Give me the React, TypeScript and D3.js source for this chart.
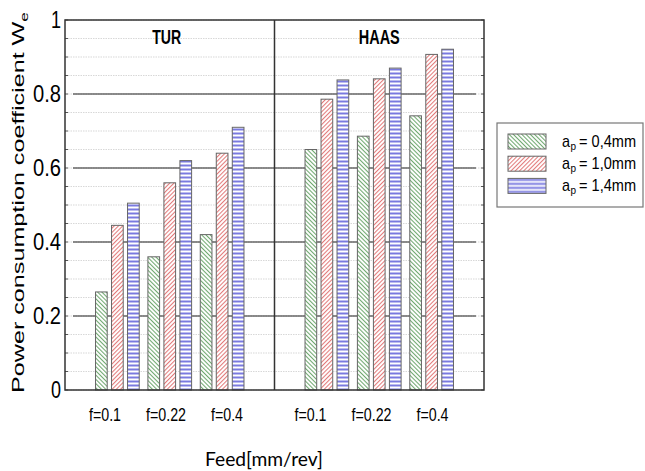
import React from 'react';
import * as d3 from 'd3';

const machines = ['TUR', 'HAAS'];
const feeds = ['f=0.1', 'f=0.22', 'f=0.4'];
const depths = ['0,4mm', '1,0mm', '1,4mm'];

// values per machine, per feed, per depth of cut
const turValues = [
  [0.265, 0.445, 0.505],
  [0.36, 0.56, 0.62],
  [0.42, 0.64, 0.71],
];
const haasValues = [
  [0.65, 0.786, 0.838],
  [0.686, 0.841, 0.87],
  [0.741, 0.907, 0.921],
];
const yTicks = [0, 0.2, 0.4, 0.6, 0.8, 1];
const minorTicks = d3.range(0, 1.0001, 0.05);

const patterns = ['hatchGreen', 'hatchRed', 'hatchBlue'];

const W = 645, H = 471;
const left = 65, right = 484, top = 20, bottom = 390;
const FONT = 'Arial, "Liberation Sans", sans-serif';

export default function App() {
  const y = d3.scaleLinear().domain([0, 1]).range([bottom, top]);
  // 8 slots across the frame: groups sit at 1,2,3 (TUR) and 5,6,7 (HAAS)
  const x = d3.scaleLinear().domain([0, 8]).range([left, right]);
  const inner = d3.scaleBand<number>().domain([0, 1, 2]).range([-21.85, 21.85]).paddingInner(0.27);
  const labelX = d3.scaleLinear().domain([0, 2]).range([105, 227]);
  const panelW = x(4) - x(0);

  const data = [turValues, haasValues];

  return (
    <svg width={W} height={H} style={{ position: 'absolute', left: 0, top: 0 }}>
      <defs>
        <pattern id="hatchGreen" patternUnits="userSpaceOnUse" width="3" height="3" patternTransform="rotate(-45)">
          <rect width="3" height="3" fill="#fff" />
          <line x1="0.5" y1="0" x2="0.5" y2="3" stroke="#6fa86f" strokeWidth="1.1" />
        </pattern>
        <pattern id="hatchRed" patternUnits="userSpaceOnUse" width="3" height="3" patternTransform="rotate(45)">
          <rect width="3" height="3" fill="#fff" />
          <line x1="0.5" y1="0" x2="0.5" y2="3" stroke="#e27a7a" strokeWidth="1.1" />
        </pattern>
        <pattern id="hatchBlue" patternUnits="userSpaceOnUse" width="4" height="4">
          <rect width="4" height="4" fill="#fff" />
          <line x1="0" y1="1.5" x2="4" y2="1.5" stroke="#7a7ae0" strokeWidth="2" />
        </pattern>
      </defs>

      {/* minor grid + small ticks */}
      {minorTicks.map((t, i) => (
        <g key={'m' + i}>
          <line x1={left + 3} x2={right - 3} y1={y(t)} y2={y(t)} stroke="#d8d8d8" strokeWidth={1.2} strokeDasharray="1.5,1" />
          <line x1={left} x2={left + 3} y1={y(t)} y2={y(t)} stroke="#555" />
          <line x1={right - 3} x2={right} y1={y(t)} y2={y(t)} stroke="#555" />
        </g>
      ))}
      {/* major grid */}
      {yTicks.slice(1, -1).map(t => (
        <line key={'M' + t} x1={left + 8} x2={right - 8} y1={y(t)} y2={y(t)} stroke="#222" strokeWidth={1.2} />
      ))}

      {/* bars */}
      {data.map((panel, pi) =>
        panel.map((vals, fi) =>
          vals.map((v, di) => {
            const cx = x(pi * 4 + fi + 1);
            return (
              <rect key={`${pi}-${fi}-${di}`}
                x={cx + (inner(di) as number)} y={y(v)}
                width={inner.bandwidth()} height={y(0) - y(v)}
                fill={`url(#${patterns[di]})`} stroke="#666" strokeWidth={1} />
            );
          })
        )
      )}

      {/* frame */}
      <rect x={left} y={top} width={right - left} height={bottom - top} fill="none" stroke="#333" strokeWidth={1.5} />
      <line x1={x(4)} x2={x(4)} y1={top} y2={bottom} stroke="#333" strokeWidth={1.5} />

      {/* panel titles */}
      {machines.map((m, i) => (
        <text key={m} x={x(i * 4 + 2) - 3 + i * 3} y={44} textAnchor="middle" fontFamily={FONT}
          fontWeight="bold" fontSize={20} textLength={m === 'TUR' ? 29 : 41} lengthAdjust="spacingAndGlyphs">{m}</text>
      ))}

      {/* y tick labels */}
      {yTicks.map(t => {
        const s = String(t);
        return (
          <text key={'yl' + t} x={61} y={y(t) + 8} textAnchor="end" fontFamily={FONT} fontSize={23}
            textLength={s.length === 1 ? 10 : 28} lengthAdjust="spacingAndGlyphs">{s}</text>
        );
      })}

      {/* x tick labels */}
      {machines.map((m, pi) =>
        feeds.map((f, fi) => (
          <text key={m + f} x={labelX(fi) + pi * (panelW - 4)} y={421} textAnchor="middle" fontFamily={FONT}
            fontSize={19} textLength={f.length === 6 ? 40 : 32} lengthAdjust="spacingAndGlyphs">{f}</text>
        ))
      )}

      {/* axis titles */}
      <text x={264} y={466} textAnchor="middle" fontFamily='Lato, "Open Sans", sans-serif' fontSize={20}
        textLength={118} lengthAdjust="spacingAndGlyphs">Feed[mm/rev]</text>
      <text transform={`translate(23.5,${(12 + 393) / 2}) rotate(-90)`} textAnchor="middle" fontFamily={FONT}
        fontSize={16} textLength={381} lengthAdjust="spacingAndGlyphs">
        Power consumption coefficient W<tspan fontSize={11} dy={4}>e</tspan>
      </text>

      {/* legend */}
      <rect x={497} y={123} width={146} height={84} fill="#fff" stroke="#777" strokeWidth={1.2} />
      {depths.map((d, i) => (
        <g key={d} transform={`translate(508,${134 + i * 22.2})`}>
          <rect width={38} height={15} fill={`url(#${patterns[i]})`} stroke="#666" />
          <text x={54} y={13} fontFamily={FONT} fontSize={17} textLength={8} lengthAdjust="spacingAndGlyphs">a</text>
          <text x={62.5} y={16} fontFamily={FONT} fontSize={10}>p</text>
          <text x={71} y={13} fontFamily={FONT} fontSize={17} textLength={57} lengthAdjust="spacingAndGlyphs">{'= ' + d}</text>
        </g>
      ))}
    </svg>
  );
}
